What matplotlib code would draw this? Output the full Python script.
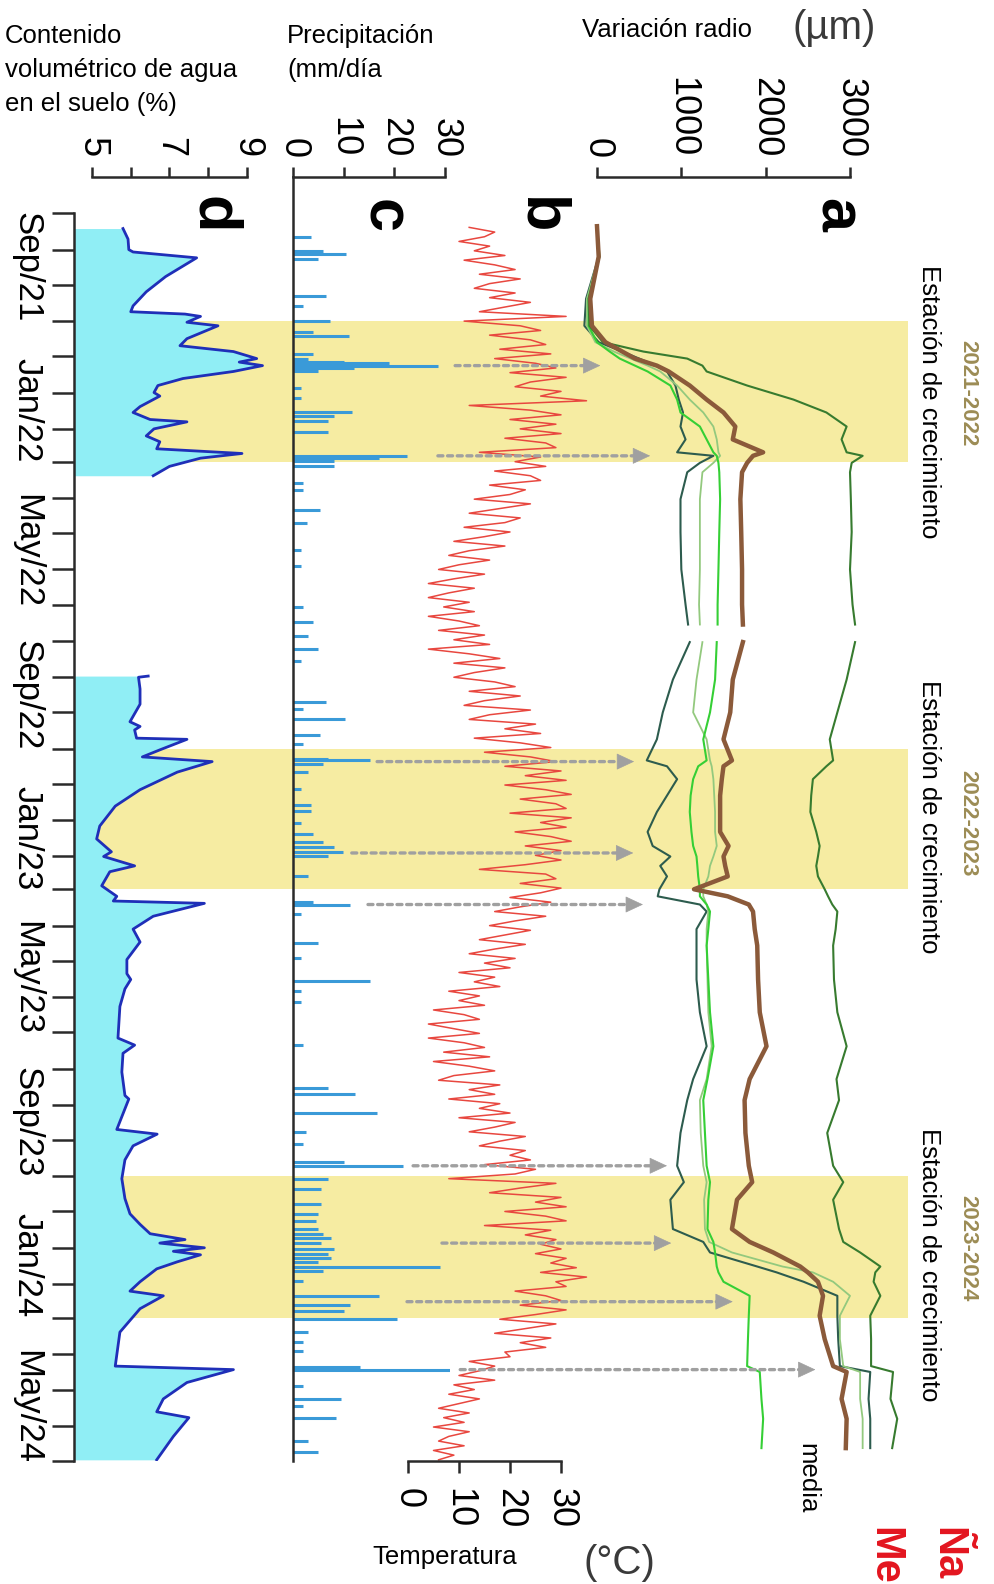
import matplotlib
matplotlib.use('Agg')
import matplotlib.pyplot as plt
import matplotlib.dates as mdates
from matplotlib import font_manager
import numpy as np
import pandas as pd

# ---------------- datos ----------------
# estaciones de crecimiento (bandas amarillas)
estaciones = ['2021-2022', '2022-2023', '2023-2024']
estacion_ini = ['2021-11-01', '2022-11-01', '2023-11-01']
estacion_fin = ['2022-03-01', '2023-03-01', '2024-03-01']

# eje de tiempo
etiquetas_tiempo = ['Sep/21', 'Jan/22', 'May/22', 'Sep/22', 'Jan/23',
                    'May/23', 'Sep/23', 'Jan/24', 'May/24']
fechas_etiqueta = ['2021-09-16', '2022-01-16', '2022-05-16', '2022-09-16',
                   '2023-01-16', '2023-05-16', '2023-09-16', '2024-01-16',
                   '2024-05-16']

# panel a: variacion del radio (um), hueco de datos en julio 2022
fechas_radio = ['2021-08-12', '2021-09-07', '2021-10-13', '2021-11-05', '2021-11-19',
                '2021-11-27', '2021-12-03', '2021-12-09', '2021-12-14', '2021-12-26',
                '2022-01-07', '2022-01-18', '2022-01-30', '2022-02-10', '2022-02-21',
                '2022-02-24', '2022-03-02', '2022-03-10', '2022-04-02', '2022-04-30',
                '2022-06-01', '2022-07-01', '2022-07-18', '2022-07-26', '2022-08-02',
                '2022-09-03', '2022-10-01', '2022-10-24', '2022-11-11', '2022-11-16',
                '2022-11-27', '2022-12-11', '2022-12-25', '2023-01-11', '2023-01-23',
                '2023-02-01', '2023-02-09', '2023-02-18', '2023-03-01', '2023-03-07',
                '2023-03-14', '2023-03-20', '2023-04-04', '2023-04-18', '2023-05-17',
                '2023-06-14', '2023-07-13', '2023-08-10', '2023-08-28', '2023-09-25',
                '2023-10-23', '2023-11-06', '2023-11-21', '2023-12-16', '2023-12-27',
                '2024-01-05', '2024-01-17', '2024-01-22', '2024-01-30', '2024-02-11',
                '2024-02-28', '2024-03-19', '2024-04-11', '2024-04-16', '2024-05-09',
                '2024-05-26', '2024-06-20']
nan = np.nan
radio_1 = [0, 30, -100, -90, 70, 550, 1070, 1250, 1300, 1780,
           2330, 2720, 2960, 2900, 2960, 3150, 3020, 3000, 3010, 3020,
           3000, 3030, 3060, nan, 3060, 2960, 2850, 2760, 2800, 2720,
           2560, 2540, 2530, 2600, 2640, 2620, 2600, 2620, 2700, 2740,
           2790, 2850, 2830, 2800, 2810, 2850, 2960, 2840, 2870, 2730,
           2800, 2920, 2800, 2870, 2920, 3120, 3360, 3300, 3280, 3360,
           3240, 3250, 3250, 3510, 3480, 3560, 3500]
radio_media = [0, 20, -80, -60, 100, 300, 450, 710, 850, 1100,
               1300, 1500, 1640, 1610, 1970, 1850, 1780, 1720, 1700, 1710,
               1720, 1720, 1730, nan, 1730, 1610, 1580, 1500, 1600, 1500,
               1480, 1460, 1460, 1460, 1560, 1500, 1520, 1550, 1150, 1550,
               1800, 1850, 1870, 1900, 1910, 1930, 2010, 1810, 1750, 1760,
               1800, 1840, 1660, 1600, 1810, 2090, 2410, 2500, 2620, 2680,
               2640, 2700, 2800, 2960, 2900, 2960, 2950]
radio_3 = [0, 20, -120, -120, -20, 200, 400, 600, 750, 950,
           1100, 1260, 1380, 1420, 1440, 1460, 1380, 1250, 1220, 1220,
           1220, 1210, 1220, nan, 1250, 1180, 1140, 1300, 1340, 1360,
           1380, 1390, 1400, 1400, 1420, 1380, 1340, 1320, 1260, 1260,
           1300, 1320, 1300, 1300, 1310, 1320, 1360, 1300, 1220, 1230,
           1260, 1300, 1270, 1280, 1330, 1600, 2200, 2560, 2800, 3000,
           2880, 2880, 2920, 3120, 3120, 3150, 3150]
radio_4 = [0, 20, -100, -100, 0, 150, 270, 450, 600, 870,
           950, 990, 1220, 1300, 1380, 1420, 1440, 1450, 1460, 1450,
           1440, 1430, 1430, nan, 1420, 1400, 1340, 1260, 1300, 1200,
           1140, 1110, 1100, 1120, 1140, 1180, 1190, 1200, 1220, 1220,
           1300, 1340, 1320, 1300, 1320, 1340, 1380, 1310, 1260, 1280,
           1300, 1340, 1320, 1310, 1380, 1400, 1420, 1440, 1500, 1810,
           1800, 1790, 1780, 1930, 1950, 1970, 1950]
radio_5 = [0, 20, -130, -150, 20, 300, 500, 700, 830, 930,
           970, 1020, 990, 1050, 950, 1380, 1220, 1070, 990, 990,
           1000, 1050, 1080, nan, 1100, 900, 780, 710, 590, 830,
           950, 830, 710, 600, 660, 870, 750, 830, 740, 720,
           1220, 1300, 1180, 1180, 1180, 1220, 1300, 1140, 1070, 990,
           950, 1030, 870, 900, 1260, 1340, 1900, 2130, 2450, 2850,
           2850, 2860, 2880, 3240, 3220, 3240, 3240]

# panel b: temperatura (grados C), un valor cada 4 dias desde el 13/08/2021
temp_inicio = '2021-08-13'
temperatura = [
    12, 17, 15, 10, 16,                      # ago 2021
    13, 19, 11, 17, 21, 14, 22, 16,          # sep
    13, 21, 16, 24, 19, 14, 31,              # oct
    11, 22, 26, 16, 24, 27, 18, 28,          # nov
    17, 25, 29, 20, 31, 24, 21, 30,          # dic
    26, 35, 12, 24, 30, 20, 29,              # ene 2022
    22, 30, 19, 27, 29, 14, 26,              # feb
    21, 27, 17, 24, 26, 16, 23, 20,          # mar
    13, 24, 18, 12, 22, 19, 11, 20,          # abr
    15, 9, 19, 12, 8, 16, 10,                # may
    6, 15, 9, 4, 13, 8, 4, 12,               # jun
    7, 13, 4, 10, 14, 6, 15, 9,              # jul
    16, 4, 12, 18, 9, 19, 13,                # ago
    9, 17, 21, 12, 22, 15, 11, 24,           # sep
    16, 12, 25, 19, 26, 13, 22, 28,          # oct
    15, 24, 29, 19, 30, 23, 31,              # nov
    19, 27, 32, 22, 29, 31, 20, 32,          # dic
    26, 31, 21, 28, 32, 23, 30, 25,          # ene 2023
    30, 23, 14, 27, 29, 22, 30,              # feb
    26, 20, 28, 22, 17, 27, 21,              # mar
    16, 24, 19, 14, 23, 17, 12, 21,          # abr
    15, 20, 10, 17, 13, 18, 8, 14,           # may
    10, 15, 5, 11, 14, 4, 9,                 # jun
    14, 4, 11, 15, 7, 16, 5, 12,             # jul
    17, 9, 6, 18, 12, 17, 8, 18,             # ago
    14, 20, 10, 21, 17, 12, 23,              # sep
    18, 14, 23, 20, 24, 15, 25, 21,          # oct
    8, 29, 22, 16, 30, 25, 31,               # nov
    19, 27, 31, 15, 28, 23, 29, 26,          # dic
    30, 25, 31, 28, 33, 26, 35, 29,          # ene 2024
    31, 21, 27, 30, 22, 31, 25,              # feb
    18, 29, 23, 17, 28, 22, 27, 19,          # mar
    20, 12, 17, 14, 10, 17, 9,               # abr
    13, 8, 14, 10, 6, 12, 7, 11,             # may
    5, 12, 8, 6, 11, 5, 9, 6]                # jun

# panel c: precipitacion (mm/dia)
fechas_lluvia = ['2021-08-21', '2021-09-02', '2021-09-05', '2021-09-09', '2021-10-11',
                 '2021-10-19', '2021-11-01', '2021-11-10', '2021-11-14', '2021-11-29',
                 '2021-12-03', '2021-12-06', '2021-12-07', '2021-12-09', '2021-12-11',
                 '2021-12-14', '2021-12-28', '2022-01-06', '2022-01-18', '2022-01-21',
                 '2022-01-25', '2022-02-04', '2022-02-24', '2022-02-26', '2022-02-28',
                 '2022-03-05', '2022-03-19', '2022-03-25', '2022-04-11', '2022-04-22',
                 '2022-05-15', '2022-05-29', '2022-07-03', '2022-07-16', '2022-07-28',
                 '2022-08-08', '2022-08-18', '2022-09-22', '2022-09-28', '2022-10-07',
                 '2022-10-20', '2022-10-28', '2022-11-10', '2022-11-11', '2022-11-14',
                 '2022-11-21', '2022-12-05', '2022-12-19', '2022-12-24', '2023-01-03',
                 '2023-01-13', '2023-01-20', '2023-01-24', '2023-01-28', '2023-02-01',
                 '2023-02-18', '2023-03-12', '2023-03-14', '2023-03-22', '2023-04-16',
                 '2023-04-29', '2023-05-18', '2023-05-27', '2023-06-05', '2023-07-12',
                 '2023-08-18', '2023-08-23', '2023-09-08', '2023-09-24', '2023-10-04',
                 '2023-10-20', '2023-10-23', '2023-11-03', '2023-11-12', '2023-11-25',
                 '2023-12-03', '2023-12-09', '2023-12-16', '2023-12-20', '2023-12-24',
                 '2023-12-28', '2024-01-02', '2024-01-06', '2024-01-10', '2024-01-13',
                 '2024-01-17', '2024-01-21', '2024-01-29', '2024-02-11', '2024-02-19',
                 '2024-02-24', '2024-03-02', '2024-03-13', '2024-03-21', '2024-03-29',
                 '2024-04-12', '2024-04-14', '2024-04-28', '2024-05-09', '2024-05-15',
                 '2024-05-25', '2024-06-14', '2024-06-23']
lluvia = [3.5, 6, 10.5, 5, 6.6, 2, 7.3, 4, 11, 4,
          3, 10, 19, 28.6, 12, 5, 1.5, 1.5, 11.6, 8,
          7, 7, 22.5, 17, 8, 8, 2, 2, 5.4, 2.8,
          1.5, 1.5, 2, 4, 3, 5, 1.5, 6.5, 2, 10.3,
          5.4, 2, 7, 15.2, 6, 3, 1.5, 3.5, 3.5, 1.5,
          4, 6, 8, 9.8, 7, 3, 4, 11.3, 1.5, 5,
          1.5, 15.2, 1.5, 1.5, 2, 7, 12.3, 16.5, 2.5, 2,
          10, 21.7, 7, 5.5, 5.5, 5, 4.5, 5, 6, 7.5,
          5.5, 8, 7, 7.5, 5, 29, 6, 2, 17, 11.3,
          10, 20.5, 3, 2, 2, 13.2, 31.6, 2, 9.5, 2,
          8.5, 3, 5]

# panel d: contenido volumetrico de agua en el suelo (%)
fechas_agua_1 = ['2021-08-14', '2021-08-23', '2021-09-01', '2021-09-03', '2021-09-08',
                 '2021-09-24', '2021-10-07', '2021-10-19', '2021-10-24', '2021-10-26',
                 '2021-10-28', '2021-11-02', '2021-11-05', '2021-11-16', '2021-11-22',
                 '2021-11-27', '2021-12-03', '2021-12-06', '2021-12-09', '2021-12-14',
                 '2021-12-20', '2021-12-26', '2022-01-01', '2022-01-04', '2022-01-13',
                 '2022-01-18', '2022-01-24', '2022-01-26', '2022-02-01', '2022-02-07',
                 '2022-02-12', '2022-02-18', '2022-02-22', '2022-02-26', '2022-03-05',
                 '2022-03-13']
agua_1 = [5.8, 5.93, 5.95, 6.06, 7.7, 6.9, 6.4, 6.06, 6.0, 7.4,
          7.8, 7.45, 8.25, 7.45, 7.27, 8.65, 9.25, 8.8, 9.4, 8.65,
          7.35, 6.7, 6.6, 6.75, 6.24, 6.06, 6.5, 7.45, 6.6, 6.4,
          6.75, 6.67, 8.87, 7.8, 7.0, 6.58]
fechas_agua_2 = ['2022-08-31', '2022-09-01', '2022-09-11', '2022-09-24', '2022-10-09',
                 '2022-10-13', '2022-10-16', '2022-10-23', '2022-10-24', '2022-11-02',
                 '2022-11-08', '2022-11-12', '2022-11-21', '2022-12-06', '2022-12-20',
                 '2023-01-06', '2023-01-17', '2023-01-28', '2023-02-01', '2023-02-09',
                 '2023-02-14', '2023-02-26', '2023-03-07', '2023-03-11', '2023-03-13',
                 '2023-03-24', '2023-04-04', '2023-04-15', '2023-04-30', '2023-05-12',
                 '2023-05-17', '2023-05-25', '2023-06-09', '2023-07-06', '2023-07-12',
                 '2023-07-19', '2023-08-04', '2023-08-24', '2023-08-27', '2023-09-22',
                 '2023-09-26', '2023-10-06', '2023-10-18', '2023-11-03', '2023-11-20',
                 '2023-12-03', '2023-12-12', '2023-12-20', '2023-12-25', '2023-12-28',
                 '2024-01-01', '2024-01-04', '2024-01-07', '2024-01-13', '2024-01-19',
                 '2024-01-30', '2024-02-07', '2024-02-11', '2024-02-22', '2024-03-13',
                 '2024-04-11', '2024-04-14', '2024-04-25', '2024-05-09', '2024-05-20',
                 '2024-05-25', '2024-06-10', '2024-06-30']
agua_2 = [6.45, 6.2, 6.24, 6.24, 5.98, 6.24, 6.1, 6.15, 7.45, 6.75,
          6.3, 8.1, 7.2, 6.24, 5.6, 5.2, 5.12, 5.5, 5.3, 6.1,
          5.46, 5.25, 5.64, 5.55, 7.9, 6.58, 6.06, 6.24, 5.9, 5.9,
          6.0, 5.85, 5.72, 5.67, 6.1, 5.8, 5.77, 5.85, 5.95, 5.64,
          6.68, 6.06, 5.85, 5.77, 5.85, 5.98, 6.24, 6.5, 7.4, 6.75,
          7.9, 7.1, 7.8, 7.2, 6.67, 6.24, 5.98, 6.84, 6.24, 5.72,
          5.6, 8.65, 7.45, 6.84, 6.67, 7.5, 7.1, 6.67]

# flechas: lluvia -> respuesta del radio
fechas_flecha = ['2021-12-09', '2022-02-24', '2022-11-12', '2023-01-29', '2023-03-14',
                 '2023-10-23', '2023-12-28', '2024-02-16', '2024-04-14']
flecha_lluvia = [32, 28.6, 16.6, 11.6, 14.8, 23.7, 29.4, 22.5, 33]
flecha_radio = [40, 630, 440, 430, 545, 830, 880, 1610, 2590]

# ---------------- estilo ----------------
nombres = {f.name for f in font_manager.fontManager.ttflist}
hay_angosta = 'Liberation Sans Narrow' in nombres
fam_ang = 'Liberation Sans Narrow' if hay_angosta else 'Liberation Sans'
tam_tick = 30 if hay_angosta else 26
tam_tiempo = 29 if hay_angosta else 25
tam_letra = 50 if hay_angosta else 44
tam_est = 18 if hay_angosta else 16
plt.rcParams['font.family'] = [fam_ang, 'DejaVu Sans']

amarillo = '#f6eca2'
cian = '#90eef5'
azul = '#1f2fb8'
celeste = '#3a9ad8'
rojo = '#e8473f'
gris = '#a0a0a0'
negro = '#2a2a2a'

W, H = 995, 1584
fig = plt.figure(figsize=(W / 100, H / 100), dpi=100)


def num(f):
    return mdates.date2num(pd.to_datetime(f).to_numpy())


def fx(p):
    return p / W


def fy(p):
    return 1 - p / H


def ejes(x0, x1, v0, p0, v1, p1, z):
    # ejes que ocupan de x0 a x1 px, con v0 en p0 y v1 en p1
    ax = fig.add_axes([fx(x0), fy(1461), (x1 - x0) / W, (1461 - 177) / H], zorder=z)
    k = (v1 - v0) / (p1 - p0)
    ax.set_xlim(v0 + (x0 - p0) * k, v0 + (x1 - p0) * k)
    ax.set_ylim(num('2024-07-01'), num('2021-07-01'))
    ax.patch.set_visible(False)
    for s in ax.spines.values():
        s.set_visible(False)
        s.set_linewidth(1.8)
        s.set_color(negro)
    ax.set_yticks([])
    ax.tick_params(width=1.8, color=negro)
    return ax


def eje_superior(ax, ticks, etiquetas):
    ax.xaxis.tick_top()
    ax.set_xticks(ticks, etiquetas)
    ax.spines['top'].set_visible(True)
    ax.spines['top'].set_bounds(ticks[0], ticks[-1])
    ax.tick_params(axis='x', direction='out', length=7, pad=7,
                   labelrotation=-90, labelsize=tam_tick)


# fondo: estaciones de crecimiento
ax_bg = ejes(74, 908, 0, 74, 1, 908, 0)
ax_bg.set_xticks([])
for ini, fin in zip(estacion_ini, estacion_fin):
    ax_bg.axhspan(num(ini), num(fin), color=amarillo, lw=0)

# panel d
ax_d = ejes(74, 290, 5, 92, 9, 247, 1)
for f, v in [(fechas_agua_1, agua_1), (fechas_agua_2, agua_2)]:
    y = num(f)
    ax_d.fill_betweenx(y, ax_d.get_xlim()[0], v, color=cian, lw=0)
    ax_d.plot(v, y, color=azul, lw=2)
eje_superior(ax_d, [5, 6, 7, 8, 9], ['5', '', '7', '', '9'])

ax_d.spines['left'].set_visible(True)
ax_d.spines['left'].set_bounds(num('2021-08-01'), num('2024-07-01'))
meses = pd.date_range('2021-08-01', '2024-07-01', freq='MS')
ax_d.set_yticks(num(meses))
ax_d.set_yticks(num(fechas_etiqueta), etiquetas_tiempo, minor=True)
ax_d.tick_params(axis='y', which='major', length=16, width=1.8, labelleft=False)
ax_d.tick_params(axis='y', which='minor', length=0, pad=22,
                 labelrotation=-90, labelsize=tam_tiempo)
for lab in ax_d.get_yticklabels(minor=True):
    lab.set_va('center')

# panel c
ax_c = ejes(293, 450, 0, 293, 30, 445, 2)
ax_c.hlines(num(fechas_lluvia), 0, lluvia, color=celeste, lw=2.2)
ax_c.spines['left'].set_visible(True)
eje_superior(ax_c, [0, 10, 20, 30], ['0', '10', '20', '30'])

# panel b
ax_b = ejes(380, 620, 0, 408, 30, 561, 3)
fechas_temp = pd.date_range(temp_inicio, periods=len(temperatura), freq='4D')
ax_b.plot(temperatura, num(fechas_temp), color=rojo, lw=1.1)
ax_b.set_xticks([0, 10, 20, 30], ['0', '10', '20', '30'])
ax_b.spines['bottom'].set_visible(True)
ax_b.spines['bottom'].set_bounds(0, 30)
ax_b.tick_params(axis='x', direction='out', length=8.5, pad=11,
                 labelrotation=-90, labelsize=tam_tick)

# panel a
ax_a = ejes(560, 908, 0, 597, 3000, 850, 4)
yr = num(fechas_radio)
ax_a.plot(radio_5, yr, color='#2d5c4e', lw=1.5)
ax_a.plot(radio_3, yr, color='#93c97e', lw=1.3)
ax_a.plot(radio_4, yr, color='#35cf35', lw=1.5)
ax_a.plot(radio_1, yr, color='#377b2f', lw=1.5)
ax_a.plot(radio_media, yr, color='#8b5a3a', lw=3.2)
eje_superior(ax_a, [0, 1000, 2000, 3000], ['0', '1000', '2000', '3000'])

punta = 190  # largo de la punta de flecha en um
for f, vl, vr in zip(fechas_flecha, flecha_lluvia, flecha_radio):
    yf = num(f)
    ax_a.annotate('', xy=(vr - punta, yf), xycoords='data', xytext=(vl, yf),
                  textcoords=ax_c.transData,
                  arrowprops=dict(arrowstyle='-', color=gris, lw=2.4,
                                  linestyle=(0, (1.5, 1.4)), shrinkA=0, shrinkB=0))
    ax_a.annotate('', xy=(vr, yf), xytext=(vr - punta, yf),
                  arrowprops=dict(arrowstyle='-|>,head_length=0.58,head_width=0.27',
                                  color=gris, lw=0.5, shrinkA=0, shrinkB=0,
                                  mutation_scale=20))

# ---------------- textos ----------------
txt = dict(family='Liberation Sans', color='black')
fig.text(fx(5), fy(24), 'Contenido\nvolumétrico de agua\nen el suelo (%)',
         ha='left', va='top', fontsize=18.5, linespacing=1.52, **txt)
fig.text(fx(287), fy(24), 'Precipitación\n(mm/día',
         ha='left', va='top', fontsize=18.5, linespacing=1.52, **txt)
fig.text(fx(582), fy(37), 'Variación radio', ha='left', va='baseline', fontsize=18.5, **txt)
fig.text(fx(793), fy(28), '(µm)', ha='left', va='center', fontsize=29,
         family='Liberation Sans', color='#3a3a3a')
fig.text(fx(372), fy(1564), 'Temperatura', ha='left', va='baseline', fontsize=18.5, **txt)
fig.text(fx(583), fy(1563), '(°C)', ha='left', va='center', fontsize=29,
         family=fam_ang, color='#3a3a3a')

# letras de los paneles
for letra, xb, yc in [('a', 820, 215), ('b', 523, 216), ('c', 367, 216), ('d', 197, 215)]:
    fig.text(fx(xb), fy(yc), letra, rotation=-90, rotation_mode='anchor',
             ha='center', va='baseline', fontsize=tam_letra, fontweight='bold',
             family=fam_ang, color='black')

# estaciones de crecimiento
for est, yc_t, yc_e in zip(estaciones, [402, 817, 1265], [393, 823, 1248]):
    fig.text(fx(922), fy(yc_t), 'Estación de crecimiento', rotation=-90,
             rotation_mode='anchor', ha='center', va='baseline', fontsize=18.5, **txt)
    fig.text(fx(962), fy(yc_e), est, rotation=-90, rotation_mode='anchor',
             ha='center', va='baseline', fontsize=tam_est, fontweight='bold',
             family=fam_ang, color='#9c8c55')

fig.text(fx(800), fy(1478), 'media', rotation=-90, rotation_mode='anchor',
         ha='center', va='baseline', fontsize=18.5, **txt)
fig.text(fx(936), fy(1527), 'Ña', rotation=-90, rotation_mode='anchor',
         ha='left', va='baseline', fontsize=30, fontweight='bold',
         family='Liberation Sans', color='#e3151f')
fig.text(fx(873), fy(1527), 'Me', rotation=-90, rotation_mode='anchor',
         ha='left', va='baseline', fontsize=30, fontweight='bold',
         family='Liberation Sans', color='#e3151f')

fig.savefig('out.png', dpi=100, facecolor='white')
